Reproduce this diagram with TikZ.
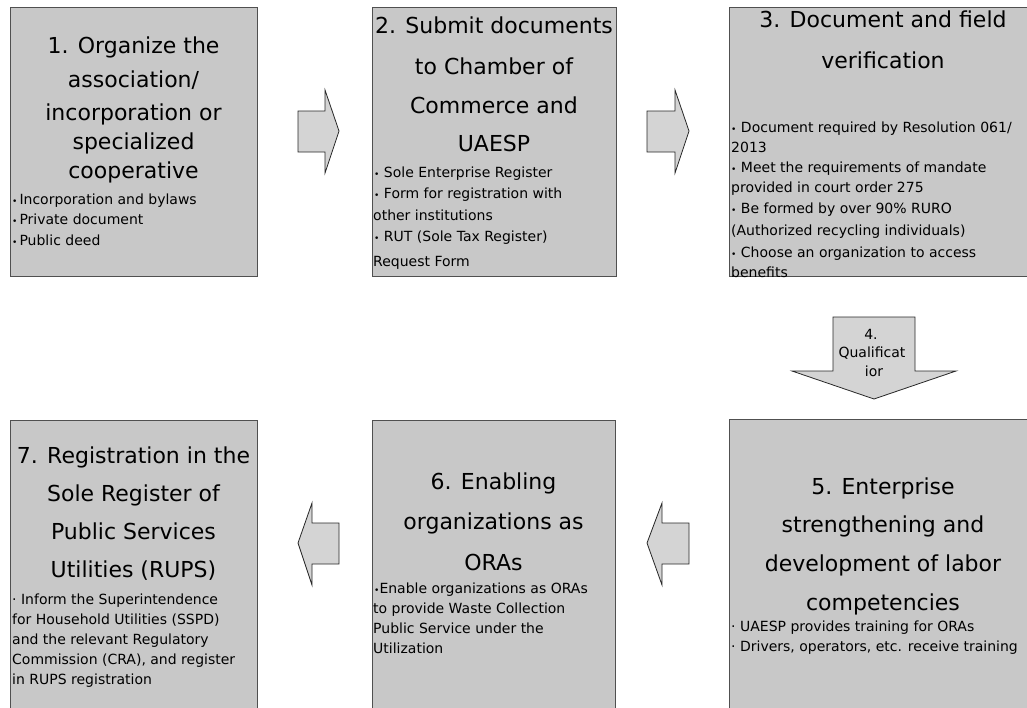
\documentclass[tikz,border=0pt]{standalone}
\usepackage{fontspec}
\setmainfont{DejaVu Sans}
\definecolor{boxfill}{RGB}{200,200,200}
\definecolor{boxline}{RGB}{80,80,80}
\definecolor{arrowfill}{RGB}{212,212,212}
\definecolor{arrowline}{RGB}{40,40,40}
\newcommand\blt{{\fontsize{9}{9}\selectfont •}}
\tikzset{
  stagebox/.style={draw=boxline, fill=boxfill, line width=0.9pt, anchor=north west,
    inner sep=0pt, outer sep=0pt},
  blockarrow/.style={draw=arrowline, fill=arrowfill, line width=0.8pt, line join=miter},
  ttl/.style={font=\fontsize{22}{22}\selectfont, anchor=base, inner sep=0pt},
  itm/.style={font=\fontsize{14}{14}\selectfont, anchor=base west, inner sep=0pt},
  lbl/.style={font=\fontsize{14}{14}\selectfont, anchor=base, inner sep=0pt},
}
\begin{document}
\begin{tikzpicture}[x=1pt,y=-1pt]
\useasboundingbox (0,0) rectangle (1027,707);
\clip (0,0) rectangle (1027,707);

% stage boxes
\node[stagebox, minimum width=247pt, minimum height=269pt] (s1) at (10,7) {};
\node[stagebox, minimum width=244pt, minimum height=269pt] (s2) at (372,7) {};
\node[stagebox, minimum width=310pt, minimum height=269pt] (s3) at (729,7) {};
\node[stagebox, minimum width=310pt, minimum height=300pt] (s5) at (729,419) {};
\node[stagebox, minimum width=243pt, minimum height=300pt] (s6) at (372,420) {};
\node[stagebox, minimum width=247pt, minimum height=300pt] (s7) at (10,420) {};

% block arrows between the stages
\draw[blockarrow] (298,111) -- (325,111) -- (325,90) -- (339,131) -- (325,173) -- (325,152) -- (298,152) -- cycle;
\draw[blockarrow] (647,111) -- (675,111) -- (675,90) -- (689,131) -- (675,173) -- (675,152) -- (647,152) -- cycle;
\draw[blockarrow] (833,317) -- (915,317) -- (915,371) -- (956,371) -- (874,399) -- (792,371) -- (833,371) -- cycle;
\draw[blockarrow] (689,523) -- (662,523) -- (662,503) -- (647,543) -- (662,585) -- (662,564) -- (689,564) -- cycle;
\draw[blockarrow] (339,523) -- (312,523) -- (312,503) -- (298,543) -- (312,585) -- (312,564) -- (339,564) -- cycle;

\node[lbl] (q1) at (871,339) {4.};
\node[lbl] (q2) at (872,357) {Qualificat};
\node[lbl] (q3) at (874,376) {ior};

% stage 1
\node[ttl] (h1a) at (133.5,53) {1. Organize the};
\node[ttl] (h1b) at (133.5,87) {association/};
\node[ttl] (h1c) at (133.5,120) {incorporation or};
\node[ttl] (h1d) at (133.5,149) {specialized};
\node[ttl] (h1e) at (133.5,178) {cooperative};
\node[itm] (i1a) at (12,204) {\blt\hspace{2pt}Incorporation and bylaws};
\node[itm] (i1b) at (12,224.5) {\blt\hspace{2pt}Private document};
\node[itm] (i1c) at (12,245) {\blt\hspace{2pt}Public deed};

% stage 2
\node[ttl] (h2a) at (494,33) {2. Submit documents};
\node[ttl] (h2b) at (494,74) {to Chamber of};
\node[ttl] (h2c) at (494,113) {Commerce and};
\node[ttl] (h2d) at (494,151) {UAESP};
\node[itm] (i2a) at (374,177) {\blt\ Sole Enterprise Register};
\node[itm] (i2b) at (374,198) {\blt\ Form for registration with};
\node[itm] (i2c) at (373,220) {other institutions};
\node[itm] (i2d) at (374,241) {\blt\ RUT (Sole Tax Register)};
\node[itm] (i2e) at (373,266) {Request Form};

% stage 3
\node[ttl] (h3a) at (883,27) {3. Document and field};
\node[ttl] (h3b) at (883,68) {verification};
\node[itm] (i3a) at (731,132) {\blt\ Document required by Resolution 061/};
\node[itm] (i3b) at (731,152) {2013};
\node[itm] (i3c) at (731,172) {\blt\ Meet the requirements of mandate};
\node[itm] (i3d) at (731,192) {provided in court order 275};
\node[itm] (i3e) at (731,213) {\blt\ Be formed by over 90\% RURO};
\node[itm] (i3f) at (731,235) {(Authorized recycling individuals)};
\node[itm] (i3g) at (731,257) {\blt\ Choose an organization to access};
\node[itm] (i3h) at (731,277) {benefits};

% stage 5
\node[ttl] (h5a) at (883,494) {5. Enterprise};
\node[ttl] (h5b) at (883,532) {strengthening and};
\node[ttl] (h5c) at (883,571) {development of labor};
\node[ttl] (h5d) at (883,610) {competencies};
\node[itm] (i5a) at (731,631) {· UAESP provides training for ORAs};
\node[itm] (i5b) at (731,651) {· Drivers, operators, etc. receive training};

% stage 6
\node[ttl] (h6a) at (493.5,489) {6. Enabling};
\node[ttl] (h6b) at (493.5,529) {organizations as};
\node[ttl] (h6c) at (493.5,570) {ORAs};
\node[itm] (i6a) at (374,593) {\blt Enable organizations as ORAs};
\node[itm] (i6b) at (373,613) {to provide Waste Collection};
\node[itm] (i6c) at (373,633) {Public Service under the};
\node[itm] (i6d) at (373,653) {Utilization};

% stage 7
\node[ttl] (h7a) at (133.5,463) {7. Registration in the};
\node[ttl] (h7b) at (133.5,501) {Sole Register of};
\node[ttl] (h7c) at (133.5,539) {Public Services};
\node[ttl] (h7d) at (133.5,577) {Utilities (RUPS)};
\node[itm] (i7a) at (12,604) {· Inform the Superintendence};
\node[itm] (i7b) at (12,624) {for Household Utilities (SSPD)};
\node[itm] (i7c) at (12,644) {and the relevant Regulatory};
\node[itm] (i7d) at (12,664) {Commission (CRA), and register};
\node[itm] (i7e) at (12,684) {in RUPS registration};
\end{tikzpicture}
\end{document}
